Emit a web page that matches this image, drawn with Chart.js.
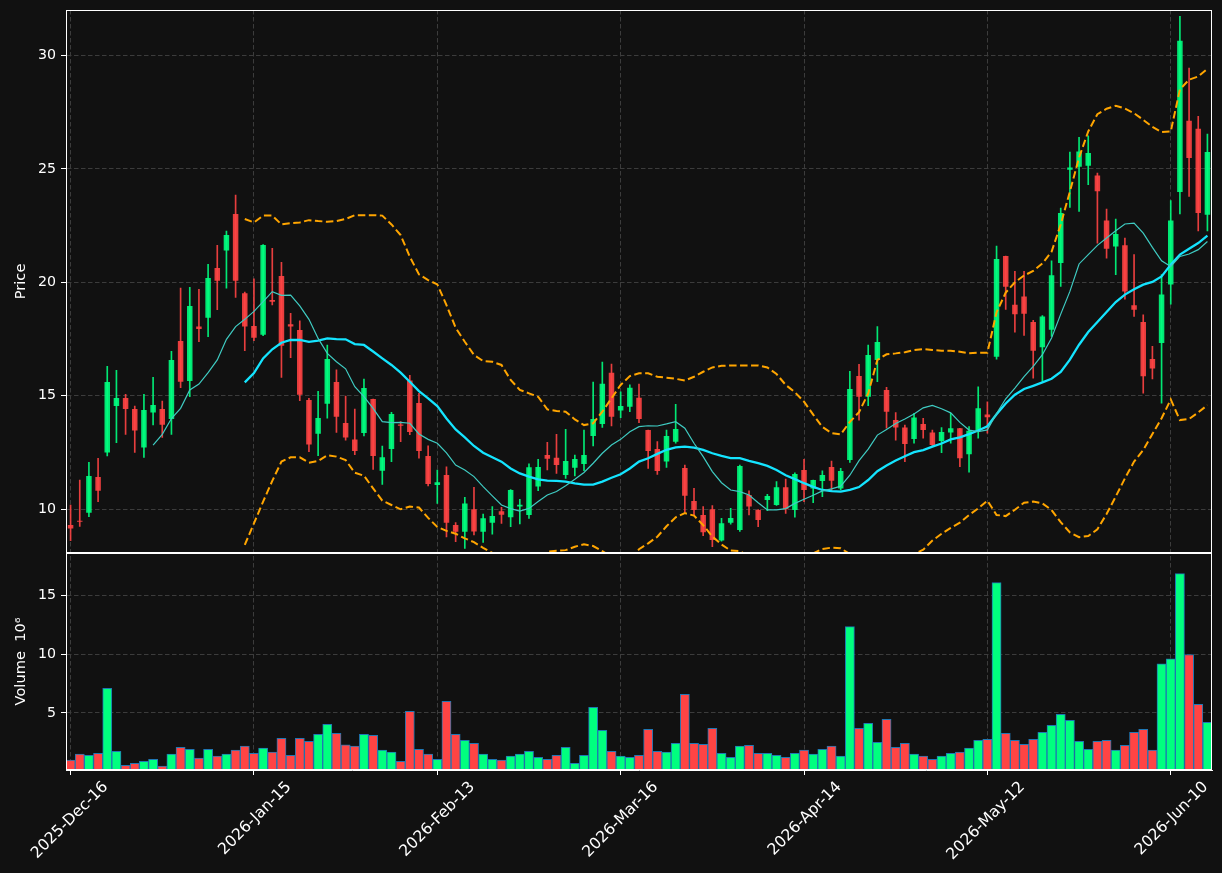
<!DOCTYPE html>
<html>
<head>
<meta charset="utf-8">
<script src="https://cdn.jsdelivr.net/npm/chart.js@4.4.1/dist/chart.umd.min.js"></script>
<style>
  html, body { margin: 0; padding: 0; background: #111111; }
  #wrap { width: 1222px; height: 873px; position: relative; }
</style>
</head>
<body>
<div id="wrap"><canvas id="c"></canvas></div>
<script>
// ---------------- data ----------------
const dates = [
 "2025-Dec-16","2025-Dec-17","2025-Dec-18","2025-Dec-19","2025-Dec-22","2025-Dec-23","2025-Dec-24","2025-Dec-26","2025-Dec-29","2025-Dec-30",
 "2025-Dec-31","2026-Jan-02","2026-Jan-05","2026-Jan-06","2026-Jan-07","2026-Jan-08","2026-Jan-09","2026-Jan-12","2026-Jan-13","2026-Jan-14",
 "2026-Jan-15","2026-Jan-16","2026-Jan-20","2026-Jan-21","2026-Jan-22","2026-Jan-23","2026-Jan-26","2026-Jan-27","2026-Jan-28","2026-Jan-29",
 "2026-Jan-30","2026-Feb-02","2026-Feb-03","2026-Feb-04","2026-Feb-05","2026-Feb-06","2026-Feb-09","2026-Feb-10","2026-Feb-11","2026-Feb-12",
 "2026-Feb-13","2026-Feb-17","2026-Feb-18","2026-Feb-19","2026-Feb-20","2026-Feb-23","2026-Feb-24","2026-Feb-25","2026-Feb-26","2026-Feb-27",
 "2026-Mar-02","2026-Mar-03","2026-Mar-04","2026-Mar-05","2026-Mar-06","2026-Mar-09","2026-Mar-10","2026-Mar-11","2026-Mar-12","2026-Mar-13",
 "2026-Mar-16","2026-Mar-17","2026-Mar-18","2026-Mar-19","2026-Mar-20","2026-Mar-23","2026-Mar-24","2026-Mar-25","2026-Mar-26","2026-Mar-27",
 "2026-Mar-30","2026-Mar-31","2026-Apr-01","2026-Apr-02","2026-Apr-06","2026-Apr-07","2026-Apr-08","2026-Apr-09","2026-Apr-10","2026-Apr-13",
 "2026-Apr-14","2026-Apr-15","2026-Apr-16","2026-Apr-17","2026-Apr-20","2026-Apr-21","2026-Apr-22","2026-Apr-23","2026-Apr-24","2026-Apr-27",
 "2026-Apr-28","2026-Apr-29","2026-Apr-30","2026-May-01","2026-May-04","2026-May-05","2026-May-06","2026-May-07","2026-May-08","2026-May-11",
 "2026-May-12","2026-May-13","2026-May-14","2026-May-15","2026-May-18","2026-May-19","2026-May-20","2026-May-21","2026-May-22","2026-May-26",
 "2026-May-27","2026-May-28","2026-May-29","2026-Jun-01","2026-Jun-02","2026-Jun-03","2026-Jun-04","2026-Jun-05","2026-Jun-08","2026-Jun-09",
 "2026-Jun-10","2026-Jun-11","2026-Jun-12","2026-Jun-15","2026-Jun-16"
];

const open = [
 9.31,9.49,9.85,11.42,12.50,14.55,14.90,14.42,12.72,14.26,
 14.42,13.98,17.42,15.65,18.05,18.44,20.63,21.40,23.01,19.52,
 18.08,17.69,19.22,20.28,18.15,17.90,14.82,13.33,14.65,15.61,
 13.80,13.08,13.36,14.86,11.70,12.66,13.74,15.67,14.68,12.35,
 11.07,11.51,9.31,9.01,10.00,9.01,9.41,9.91,9.65,10.12,
 9.75,11.00,12.39,12.27,11.51,11.83,12.00,13.23,13.76,16.02,
 14.35,14.52,14.92,13.49,12.66,12.10,12.98,11.82,10.37,9.75,
 10.00,8.62,9.41,9.09,10.63,9.97,10.41,10.19,10.97,9.97,
 11.73,10.92,11.25,11.86,10.92,12.17,15.87,14.96,16.58,15.26,
 13.93,13.60,13.10,13.76,13.38,13.01,13.38,13.57,12.42,13.46,
 14.18,16.72,21.16,19.01,19.38,18.25,17.14,17.91,20.85,24.96,
 25.09,25.14,24.71,22.73,21.58,21.63,18.99,18.25,16.62,17.33,
 19.90,23.98,27.12,26.77,22.98
];
const high = [
 10.19,11.29,12.07,12.25,16.30,16.12,15.07,14.55,15.07,15.81,
 14.77,16.96,19.75,19.78,19.69,20.79,21.63,22.26,23.85,19.57,
 20.16,21.66,21.50,20.88,18.63,18.30,14.89,15.20,17.24,16.14,
 14.99,14.42,15.74,14.86,12.79,14.27,13.86,15.90,15.11,12.80,
 11.73,11.87,9.41,10.53,10.97,9.79,10.12,10.09,10.87,10.44,
 12.00,12.20,12.95,13.30,13.52,12.39,13.49,15.61,16.49,16.40,
 15.18,15.48,15.52,13.49,12.98,13.49,14.62,11.95,10.92,10.12,
 10.16,9.60,10.04,11.95,10.81,9.99,10.66,11.22,11.33,11.61,
 12.20,11.29,11.69,12.12,11.80,16.08,16.39,17.24,18.05,15.37,
 14.26,13.71,14.23,14.01,13.49,13.60,14.23,13.57,13.64,15.40,
 14.74,21.60,21.16,20.48,20.48,18.33,18.54,20.95,23.27,25.74,
 26.39,26.46,24.81,23.23,22.79,21.95,21.22,18.57,17.18,20.34,
 23.60,31.72,29.44,27.31,26.53
];
const low = [
 8.62,9.24,9.68,10.34,12.35,12.94,13.30,12.51,12.29,13.72,
 13.17,13.30,15.36,14.96,17.39,17.61,18.80,19.74,19.34,16.99,
 17.43,17.65,19.00,15.81,16.68,14.79,12.54,12.36,14.01,13.39,
 13.04,12.41,13.23,11.76,11.10,12.10,12.98,13.29,12.25,11.03,
 10.26,8.78,8.57,8.28,8.87,8.54,8.90,9.38,9.23,9.35,
 9.60,10.82,11.73,11.58,11.36,11.47,11.70,12.79,13.61,13.67,
 14.04,14.30,13.82,11.80,11.54,11.85,12.91,9.87,9.75,8.84,
 8.35,8.60,9.34,9.02,9.75,9.23,9.94,10.17,9.82,9.65,
 10.34,10.29,10.56,10.78,10.85,12.07,13.93,14.57,15.62,13.57,
 13.05,12.10,12.91,13.13,12.78,12.49,12.91,11.88,11.63,13.13,
 13.35,16.61,18.81,17.80,17.66,15.78,15.64,17.62,19.82,23.30,
 23.13,24.30,21.73,21.07,20.34,19.26,18.50,15.12,15.74,14.68,
 19.04,23.01,23.79,22.27,22.27
];
const close = [
 9.15,9.45,11.47,10.82,15.61,14.90,14.42,13.47,14.38,14.60,
 13.72,16.58,15.62,18.96,17.94,20.19,20.07,22.09,20.07,18.05,
 17.56,21.64,19.15,17.21,18.05,15.05,12.85,14.02,16.62,14.08,
 13.16,12.57,15.34,12.35,12.29,14.20,13.68,13.41,12.57,11.11,
 11.19,9.41,9.01,10.26,9.02,9.60,9.70,9.76,10.85,10.20,
 11.85,11.86,12.23,11.95,12.13,12.22,12.39,13.98,15.53,14.08,
 14.55,15.36,13.98,12.57,11.69,13.23,13.54,10.60,9.97,8.99,
 8.65,9.38,9.62,11.91,10.12,9.53,10.59,10.97,10.00,11.56,
 10.85,11.29,11.51,11.26,11.69,15.30,14.96,16.80,17.37,14.30,
 13.60,12.88,14.04,13.49,12.83,13.41,13.57,12.25,13.46,14.45,
 14.05,21.03,19.81,18.59,18.62,16.99,18.50,20.31,23.05,25.06,
 25.77,25.70,24.01,21.48,22.13,19.60,18.79,15.86,16.20,19.46,
 22.72,30.64,25.48,23.05,25.74
];
// volume in millions
const volume = [
 0.99,1.50,1.41,1.58,7.09,1.75,0.56,0.73,0.90,1.07,
 0.48,1.50,2.09,1.92,1.16,1.92,1.33,1.50,1.84,2.18,
 1.58,2.01,1.67,2.85,1.41,2.85,2.60,3.19,4.04,3.28,
 2.29,2.18,3.19,3.11,1.84,1.67,0.90,5.14,1.92,1.50,
 1.07,5.99,3.19,2.68,2.43,1.50,1.07,0.99,1.33,1.50,
 1.75,1.24,1.07,1.41,2.09,0.73,1.41,5.48,3.53,1.75,
 1.33,1.24,1.41,3.62,1.75,1.67,2.43,6.58,2.43,2.34,
 3.70,1.58,1.24,2.18,2.26,1.58,1.58,1.41,1.24,1.58,
 1.84,1.50,1.92,2.18,1.33,12.34,3.70,4.12,2.51,4.46,
 2.09,2.43,1.50,1.33,1.07,1.33,1.58,1.67,2.01,2.68,
 2.77,16.07,3.28,2.68,2.34,2.77,3.36,3.95,4.89,4.38,
 2.60,1.92,2.60,2.68,1.84,2.26,3.36,3.62,1.84,9.18,
 9.60,16.84,9.97,5.73,4.21
];
// moving-average / band lines
const ma10 = [
 null,null,null,null,null,null,null,null,null,
 12.83,13.30,14.00,14.45,15.26,15.52,16.02,16.58,17.49,18.05,18.37,
 18.72,19.15,19.59,19.43,19.44,18.96,18.37,17.53,16.87,16.50,
 16.19,15.40,14.96,14.45,13.86,13.82,13.83,13.79,13.32,13.08,
 12.91,12.49,11.95,11.73,11.44,11.00,10.59,10.19,10.03,9.92,
 10.04,10.34,10.63,10.78,11.04,11.32,11.62,12.03,12.47,12.83,
 13.08,13.42,13.64,13.68,13.67,13.76,13.86,13.57,12.91,12.32,
 11.66,11.17,10.85,10.78,10.63,10.29,9.97,9.97,10.03,10.26,
 10.44,10.62,10.81,10.90,11.02,11.50,12.14,12.65,13.27,13.52,
 13.78,13.98,14.20,14.47,14.58,14.43,14.25,13.83,13.49,13.42,
 13.50,14.22,14.87,15.34,15.85,16.30,16.81,17.55,18.60,19.60,
 20.81,21.22,21.63,21.95,22.27,22.57,22.61,22.17,21.54,20.95,
 20.70,21.14,21.25,21.44,21.80
];
const ma20 = [
 null,null,null,null,null,null,null,null,null,null,
 null,null,null,null,null,null,null,null,null,15.59,
 16.00,16.65,17.05,17.34,17.46,17.46,17.38,17.43,17.53,17.50,
 17.49,17.28,17.24,16.95,16.65,16.36,16.02,15.62,15.21,14.89,
 14.55,14.00,13.52,13.17,12.79,12.49,12.29,12.10,11.80,11.58,
 11.44,11.32,11.26,11.25,11.22,11.14,11.09,11.09,11.22,11.39,
 11.54,11.80,12.10,12.25,12.44,12.62,12.73,12.76,12.72,12.62,
 12.47,12.35,12.25,12.25,12.13,12.03,11.91,11.73,11.50,11.33,
 11.15,10.99,10.85,10.80,10.78,10.86,10.98,11.29,11.68,11.93,
 12.15,12.34,12.52,12.61,12.76,12.90,13.08,13.17,13.31,13.47,
 13.66,14.19,14.66,15.05,15.30,15.44,15.59,15.75,16.05,16.59,
 17.25,17.81,18.25,18.69,19.13,19.46,19.70,19.90,20.02,20.26,
 20.78,21.22,21.48,21.73,22.06
];
const bbUpper = [
 null,null,null,null,null,null,null,null,null,null,
 null,null,null,null,null,null,null,null,null,22.79,
 22.64,22.94,22.94,22.55,22.61,22.64,22.74,22.70,22.67,22.70,
 22.79,22.96,22.96,22.96,22.94,22.55,22.08,21.13,20.35,20.10,
 19.91,19.00,18.00,17.38,16.80,16.53,16.50,16.36,15.70,15.26,
 15.11,14.96,14.40,14.33,14.30,13.96,13.71,13.79,14.30,14.89,
 15.48,15.87,15.99,15.99,15.84,15.80,15.75,15.67,15.84,16.06,
 16.25,16.32,16.34,16.34,16.34,16.34,16.25,15.96,15.48,15.16,
 14.74,14.17,13.63,13.36,13.30,13.85,14.28,15.10,16.58,16.83,
 16.87,16.92,17.02,17.06,17.02,16.99,16.99,16.94,16.87,16.90,
 16.90,18.68,19.55,20.00,20.30,20.50,20.83,21.35,22.55,24.00,
 25.50,26.65,27.41,27.65,27.78,27.66,27.45,27.16,26.85,26.62,
 26.65,28.50,28.93,29.07,29.41
];
const bbLower = [
 null,null,null,null,null,null,null,null,null,null,
 null,null,null,null,null,null,null,null,null,8.43,
 9.38,10.34,11.25,12.10,12.29,12.29,12.05,12.13,12.38,12.32,
 12.17,11.61,11.48,10.92,10.38,10.19,10.00,10.12,10.08,9.62,
 9.22,9.05,8.92,8.72,8.55,8.30,8.08,7.84,7.90,7.90,
 7.77,7.68,8.13,8.17,8.20,8.35,8.46,8.38,8.16,7.90,
 7.70,7.75,8.24,8.50,8.79,9.25,9.65,9.83,9.72,9.30,
 8.80,8.45,8.18,8.16,7.92,7.72,7.57,7.50,7.50,7.60,
 7.80,8.06,8.25,8.31,8.28,8.03,7.70,7.50,6.80,7.00,
 7.40,7.76,8.02,8.22,8.62,8.92,9.18,9.41,9.75,10.04,
 10.38,9.75,9.70,9.98,10.29,10.34,10.26,9.97,9.43,8.98,
 8.77,8.82,9.12,9.79,10.56,11.36,12.10,12.61,13.32,14.01,
 14.84,13.93,13.98,14.27,14.59
];
const xTickIndex = [0, 20, 40, 60, 80, 100, 120];
const priceTicks = [10, 15, 20, 25, 30];
const volumeTicks = [5, 10, 15];

// ---------------- styling ----------------
const FONT = "'DejaVu Sans', sans-serif";
const FG = '#ffffff';
const GRID = '#3c3c3c';
const UP_VOL = '#00ff7f', DOWN_VOL = '#ff4444';
const UP_CANDLE = 'rgba(0,255,127,0.9)', DOWN_CANDLE = 'rgba(255,68,68,0.9)';

const idx = dates.map((_, i) => i);
const isUp = i => close[i] >= open[i];
const candleColors = idx.map(i => isUp(i) ? UP_CANDLE : DOWN_CANDLE);
const volColors = idx.map(i => isUp(i) ? UP_VOL : DOWN_VOL);
const series = arr => idx.map(i => ({x: i, y: arr[i]}));

const bgAndFrame = {
  id: 'bgAndFrame',
  beforeDraw(chart) {
    const c = chart.ctx;
    c.save();
    c.fillStyle = '#111111';
    c.fillRect(0, 0, chart.width, chart.height);
    c.restore();
  },
  beforeDatasetDraw(chart, args) {
    const ys = args.meta.yScale, xs = args.meta.xScale;
    const c = chart.ctx;
    c.save();
    c.beginPath();
    c.rect(xs.left, ys.top, xs.right - xs.left, ys.bottom - ys.top);
    c.clip();
  },
  afterDatasetDraw(chart) { chart.ctx.restore(); },
  afterDraw(chart) {
    const c = chart.ctx, a = chart.chartArea;
    c.save();
    c.strokeStyle = FG;
    c.lineWidth = 1;
    ['y', 'yv'].forEach(id => {
      const s = chart.scales[id];
      const l = Math.round(a.left) + 0.5, r = Math.round(a.right) - 0.5;
      const t = Math.round(s.top) + 0.5, b = Math.round(s.bottom) - 0.5;
      c.strokeRect(l, t, r - l, b - t);
    });
    c.restore();
  }
};

const yTitle = (text) => ({display: true, text, color: FG, font: {family: FONT, size: 14.6}, padding: {top: 12.5, bottom: 0}});
const yFit = s => { s.width = 66; s.paddingTop = 0; s.paddingBottom = 0; };

new Chart(document.getElementById('c'), {
  type: 'bar',
  data: {
    datasets: [
      {type: 'line', label: 'MA10', data: series(ma10), yAxisID: 'y', xAxisID: 'x',
       borderColor: '#3fcbc2', borderWidth: 1.2, pointRadius: 0, tension: 0, order: 0},
      {type: 'line', label: 'MA20', data: series(ma20), yAxisID: 'y', xAxisID: 'x',
       borderColor: '#14e4ff', borderWidth: 2.3, pointRadius: 0, tension: 0, order: 0},
      {type: 'line', label: 'BB upper', data: series(bbUpper), yAxisID: 'y', xAxisID: 'x',
       borderColor: '#ffa500', borderWidth: 2, borderDash: [7.5, 3.5], pointRadius: 0, tension: 0, order: 0},
      {type: 'line', label: 'BB lower', data: series(bbLower), yAxisID: 'y', xAxisID: 'x',
       borderColor: '#ffa500', borderWidth: 2, borderDash: [7.5, 3.5], pointRadius: 0, tension: 0, order: 0},
      {label: 'wick', data: idx.map(i => ({x: i, y: [low[i], high[i]]})), yAxisID: 'y', xAxisID: 'x',
       backgroundColor: candleColors, barThickness: 1, grouped: false, order: 2},
      {label: 'body', data: idx.map(i => ({x: i, y: [open[i], close[i]]})), yAxisID: 'y', xAxisID: 'x',
       backgroundColor: candleColors, barPercentage: 0.6, categoryPercentage: 1, minBarLength: 1, grouped: false, order: 1},
      {label: 'Volume', data: series(volume), yAxisID: 'yv', xAxisID: 'x',
       backgroundColor: volColors, borderColor: '#1f77b4', borderWidth: 1,
       barPercentage: 1, categoryPercentage: 1, grouped: false, order: 3}
    ]
  },
  options: {
    responsive: true,
    maintainAspectRatio: false,
    animation: false,
    devicePixelRatio: 1,
    layout: {padding: {top: 10, right: 10, left: 0, bottom: 0}},
    plugins: {legend: {display: false}, tooltip: {enabled: false}},
    scales: {
      x: {
        type: 'linear', position: 'bottom', min: -0.5, max: 124.5, offset: false,
        grid: {color: GRID, lineWidth: 1, offset: false, drawTicks: true, tickLength: 5, tickColor: FG, tickWidth: 1},
        border: {color: FG, width: 1, dash: [4.5, 2.5]},
        ticks: {color: FG, font: {family: FONT, size: 15.6}, minRotation: 45, maxRotation: 45,
                autoSkip: false, padding: 3, labelOffset: 35,
                callback: v => (dates[v] !== undefined ? dates[v] : '')},
        afterBuildTicks: s => { s.ticks = xTickIndex.map(v => ({value: v})); },
        afterFit: s => { s.height = 103; s.paddingLeft = 0; s.paddingRight = 0; }
      },
      yv: {
        type: 'linear', position: 'left', stack: 'panels', stackWeight: 1,
        min: 0.157, max: 18.6,
        grid: {color: GRID, lineWidth: 1, drawTicks: true, tickLength: 5, tickColor: FG, tickWidth: 1},
        border: {color: FG, width: 1, dash: [4.5, 2.5]},
        ticks: {color: FG, font: {family: FONT, size: 14.2}, padding: 5},
        title: yTitle('Volume  10\u2076'),
        afterBuildTicks: s => { s.ticks = volumeTicks.map(v => ({value: v})); },
        afterFit: yFit
      },
      y: {
        type: 'linear', position: 'left', stack: 'panels', stackWeight: 2.5,
        min: 8.08, max: 32.0,
        grid: {color: GRID, lineWidth: 1, drawTicks: true, tickLength: 5, tickColor: FG, tickWidth: 1},
        border: {color: FG, width: 1, dash: [4.5, 2.5]},
        ticks: {color: FG, font: {family: FONT, size: 14.2}, padding: 5},
        title: yTitle('Price'),
        afterBuildTicks: s => { s.ticks = priceTicks.map(v => ({value: v})); },
        afterFit: yFit
      }
    }
  },
  plugins: [bgAndFrame]
});
</script>
</body>
</html>
